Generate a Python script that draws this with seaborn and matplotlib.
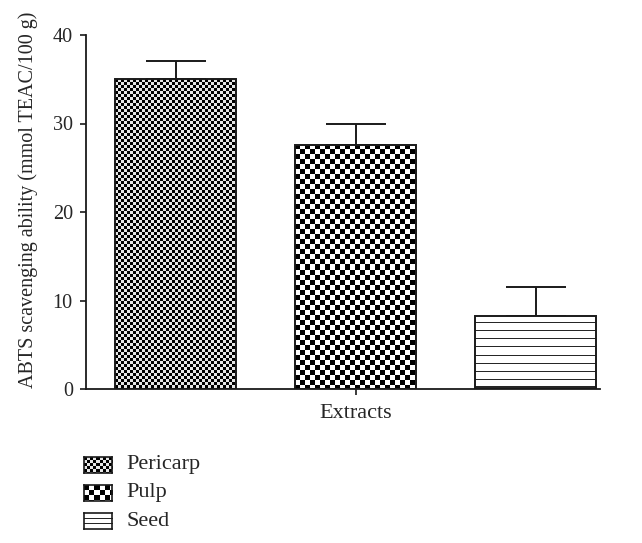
import numpy as np
import pandas as pd
import matplotlib
matplotlib.use("Agg")
import matplotlib.pyplot as plt
import seaborn as sns

# ---- data ----
group = ["Extracts", "Extracts", "Extracts"]
extracts = ["Pericarp", "Pulp", "Seed"]
values = [35.0, 27.6, 8.3]
err_upper = [2.1, 2.4, 3.2]
yticks = [0, 10, 20, 30, 40]

df = pd.DataFrame({"group": group, "extract": extracts, "value": values})

sns.set_style("ticks")
plt.rcParams["font.family"] = ["Liberation Serif", "DejaVu Serif"]

W, H = 642, 543
fig = plt.figure(figsize=(W / 100, H / 100), dpi=100)
ax = fig.add_axes([86 / W, 1 - 389 / H, (600 - 86) / W, (389 - 35) / H])

sns.barplot(data=df, x="group", y="value", hue="extract", hue_order=extracts,
            width=0.9, gap=0.328, palette=["white"] * 3,
            edgecolor="#1a1a1a", linewidth=1.4, errorbar=None, legend=False,
            ax=ax, zorder=2)

ax.set_xlim(-(355.5 - 86) / 600, (600 - 355.5) / 600)
ax.set_ylim(0, 40)
fig.canvas.draw()


def pattern(kind, hpx, wpx):
    i = np.arange(hpx)[:, None]
    j = np.arange(wpx)[None, :]
    if kind == 0:
        c = 3
        arr = ((i // c + j // c) % 2).astype(float)
        arr = np.where(arr > 0, 0.9, 0.0)
    elif kind == 1:
        c = 5
        arr = ((i // c + j // c) % 2).astype(float)
        arr = np.where(arr > 0, 1.0, 0.0)
    else:
        arr = np.ones((hpx, wpx))
        rows = (np.arange(hpx) % 8) == 7
        arr[rows, :] = 0.15
        arr[-3:, :] = 0.15
    return arr


bars = [p for p in ax.patches]
for k, p in enumerate(bars[:3]):
    x0, y0 = p.get_x(), p.get_y()
    w, h = p.get_width(), p.get_height()
    (px0, py0), (px1, py1) = ax.transData.transform([(x0, y0), (x0 + w, y0 + h)])
    hpx = max(int(round(abs(py1 - py0))), 1)
    wpx = max(int(round(abs(px1 - px0))), 1)
    arr = pattern(k, hpx, wpx)
    im = ax.imshow(arr, extent=[x0, x0 + w, y0, y0 + h], origin="upper",
                   cmap="gray", vmin=0, vmax=1, interpolation="nearest",
                   aspect="auto", zorder=2.5)
    im.set_clip_path(p)
    p.set_facecolor("none")
    p.set_zorder(3)

    ax.errorbar(x0 + w / 2, values[k], yerr=[[0], [err_upper[k]]], fmt="none",
                ecolor="#1a1a1a", elinewidth=1.4, capsize=21.5, capthick=1.4,
                zorder=1)

ax.set_xlim(-(355.5 - 86) / 600, (600 - 355.5) / 600)
ax.set_ylim(0, 40)
ax.set_yticks(yticks)
ax.set_yticklabels([str(t) for t in yticks])
ax.set_xlabel("")
ax.set_xticks([0])
ax.set_xticklabels(["Extracts"])
ax.set_ylabel("ABTS scavenging ability (mmol TEAC/100 g)", fontsize=14.5)
ax.yaxis.set_label_coords((38 - 86) / 514, (389 - 200) / 354)
ax.tick_params(axis="y", direction="out", length=4.5, width=1.2, labelsize=14.5,
               color="#1a1a1a", pad=5)
ax.tick_params(axis="x", direction="out", length=4, width=1.2, labelsize=16,
               color="#1a1a1a", pad=7)
for s in ["top", "right"]:
    ax.spines[s].set_visible(False)
for s in ["left", "bottom"]:
    ax.spines[s].set_linewidth(1.3)
    ax.spines[s].set_color("#1a1a1a")

# legend (pattern swatches + text)
rows_y = [465, 493, 521]
for k, (name, yc) in enumerate(zip(extracts, rows_y)):
    sw = fig.add_axes([84 / W, 1 - (yc + 8) / H, 28 / W, 16 / H])
    if k == 2:
        arr = np.ones((16, 28))
        arr[[5, 10], :] = 0.15
    else:
        arr = pattern(k, 16, 28)
    sw.imshow(arr, cmap="gray", vmin=0, vmax=1, interpolation="nearest",
              aspect="auto")
    sw.set_xticks([])
    sw.set_yticks([])
    for s in sw.spines.values():
        s.set_linewidth(1.2)
        s.set_color("#1a1a1a")
    fig.text(126 / W, 1 - yc / H, name, fontsize=16, va="center", ha="left")

fig.savefig("out.png", dpi=100)
